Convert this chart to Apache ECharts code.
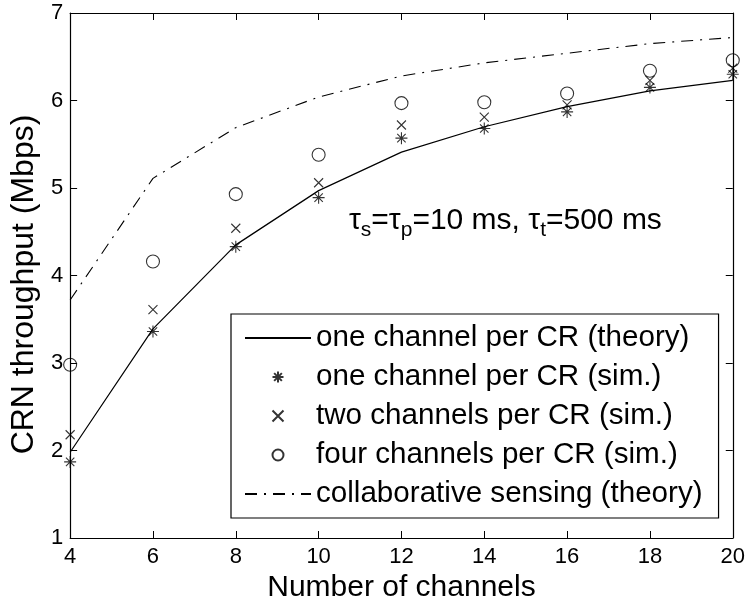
<!DOCTYPE html>
<html>
<head>
<meta charset="utf-8">
<script src="https://cdn.jsdelivr.net/npm/echarts@6/dist/echarts.min.js"></script>
<style>
  html, body { margin: 0; padding: 0; background: #fff; }
  #chart { width: 748px; height: 608px; }
</style>
</head>
<body>
<div id="chart"></div>
<script>
// Number of channels on the x axis
const channels = [4, 6, 8, 10, 12, 14, 16, 18, 20];
// CRN throughput (Mbps)
const oneChannelTheory = [1.98, 3.39, 4.35, 4.97, 5.41, 5.70, 5.93, 6.11, 6.23];
const oneChannelSim    = [1.87, 3.36, 4.33, 4.89, 5.57, 5.68, 5.87, 6.15, 6.30];
const twoChannelsSim   = [2.18, 3.61, 4.54, 5.06, 5.72, 5.81, 5.95, 6.23, 6.37];
const fourChannelsSim  = [2.98, 4.16, 4.93, 5.38, 5.97, 5.98, 6.08, 6.34, 6.46];
const collabTheory     = [3.72, 5.11, 5.69, 6.04, 6.28, 6.43, 6.54, 6.65, 6.72];

const seriesNames = [
  'one channel per CR (theory)',
  'one channel per CR (sim.)',
  'two channels per CR (sim.)',
  'four channels per CR (sim.)',
  'collaborative sensing (theory)'
];

const pairs = ys => channels.map((x, i) => [x, ys[i]]);

const FONT = 'Liberation Sans, Arial, Helvetica, sans-serif';
const ASTERISK = 'path://M0,5L10,5M5,0L5,10M1.5,1.5L8.5,8.5M8.5,1.5L1.5,8.5';
const CROSS = 'path://M0,0L10,10M10,0L0,10';

const hiddenAxisBits = {
  axisLabel: { show: false },
  axisTick: { show: true, inside: true, length: 7, lineStyle: { color: '#000' } },
  axisLine: { show: true, lineStyle: { color: '#000', width: 1.2 } },
  splitLine: { show: false }
};

// legend entries for the two curves: line only, no marker in the middle
const lineOnlyLegend = name => ({
  name,
  itemStyle: { color: 'transparent', borderColor: 'transparent', borderWidth: 0, opacity: 0 }
});

const chart = echarts.init(document.getElementById('chart'), null, { renderer: 'canvas' });

chart.setOption({
  animation: false,
  backgroundColor: '#fff',
  textStyle: { fontFamily: FONT, color: '#000' },
  grid: { left: 70, right: 12, top: 13, bottom: 64, containLabel: false },
  title: {
    left: 349, top: 201, padding: 0,
    text: '{m|τ}{s|s}{m|=τ}{s|p}{m|=10 ms, τ}{s|t}{m|=500 ms}',
    textStyle: {
      fontWeight: 'normal',
      rich: {
        m: { fontFamily: FONT, fontWeight: 'normal', fontSize: 30, color: '#000', lineHeight: 40 },
        s: { fontFamily: FONT, fontWeight: 'normal', fontSize: 21, color: '#000', lineHeight: 14, verticalAlign: 'bottom' }
      }
    }
  },
  legend: {
    orient: 'vertical',
    left: 231, top: 314,
    padding: [8, 16, 8, 13],
    itemWidth: 66, itemHeight: 11, itemGap: 7,
    backgroundColor: '#fff',
    borderColor: '#000', borderWidth: 1.2, borderRadius: 0,
    textStyle: { fontFamily: FONT, fontSize: 29.6, color: '#000', lineHeight: 32 },
    data: [
      lineOnlyLegend(seriesNames[0]),
      seriesNames[1],
      seriesNames[2],
      seriesNames[3],
      lineOnlyLegend(seriesNames[4])
    ]
  },
  xAxis: [
    {
      type: 'value', min: 4, max: 20, interval: 2,
      name: 'Number of channels', nameLocation: 'middle', nameGap: 35,
      nameTextStyle: { fontFamily: FONT, fontSize: 30, color: '#000' },
      axisLabel: { fontFamily: FONT, fontSize: 22, color: '#000', margin: 8 },
      axisTick: { inside: true, length: 7, lineStyle: { color: '#000' } },
      axisLine: { show: true, onZero: false, lineStyle: { color: '#000', width: 1.2 } },
      splitLine: { show: false }
    },
    Object.assign({ type: 'value', min: 4, max: 20, interval: 2, position: 'top' }, hiddenAxisBits)
  ],
  yAxis: [
    {
      type: 'value', min: 1, max: 7, interval: 1,
      name: 'CRN throughput (Mbps)', nameLocation: 'middle', nameGap: 27,
      nameTextStyle: { fontFamily: FONT, fontSize: 32, color: '#000', padding: [0, 18, 0, 0] },
      axisLabel: { fontFamily: FONT, fontSize: 22, color: '#000', margin: 7 },
      axisTick: { inside: true, length: 7, lineStyle: { color: '#000' } },
      axisLine: { show: true, onZero: false, lineStyle: { color: '#000', width: 1.2 } },
      splitLine: { show: false }
    },
    Object.assign({ type: 'value', min: 1, max: 7, interval: 1, position: 'right' }, hiddenAxisBits)
  ],
  series: [
    {
      name: seriesNames[0], type: 'line', data: pairs(oneChannelTheory),
      symbol: 'none', color: '#000',
      lineStyle: { color: '#000', width: 1.2, type: 'solid' }, z: 2
    },
    {
      name: seriesNames[1], type: 'scatter', data: pairs(oneChannelSim),
      symbol: ASTERISK, symbolSize: 12, clip: false, color: '#000',
      itemStyle: { color: 'transparent', borderColor: '#000', borderWidth: 1.1 }, z: 3
    },
    {
      name: seriesNames[2], type: 'scatter', data: pairs(twoChannelsSim),
      symbol: CROSS, symbolSize: 9, clip: false, color: '#000',
      itemStyle: { color: 'transparent', borderColor: '#000', borderWidth: 1.1 }, z: 3
    },
    {
      name: seriesNames[3], type: 'scatter', data: pairs(fourChannelsSim),
      symbol: 'circle', symbolSize: 13, clip: false, color: '#000',
      itemStyle: { color: 'transparent', borderColor: '#000', borderWidth: 1.1 }, z: 3
    },
    {
      name: seriesNames[4], type: 'line', data: pairs(collabTheory),
      symbol: 'none', color: '#000',
      lineStyle: { color: '#000', width: 1.1, type: [12, 7, 2, 7] }, z: 2
    }
  ]
});
</script>
</body>
</html>
